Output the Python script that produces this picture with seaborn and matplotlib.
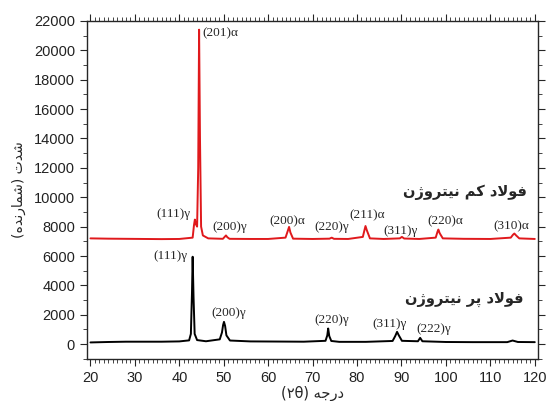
import pandas as pd
import seaborn as sns
import matplotlib.pyplot as plt
from matplotlib.ticker import MultipleLocator

##############################
# XRD pattern values (read) #
##############################

# low nitrogen steel (red, shifted up)
low_2theta = [20, 24, 28, 32, 36, 40, 43.0, 43.3, 43.5, 43.75, 44.0, 44.25, 44.45, 44.65, 44.9,
              45.3, 46.5, 49.8, 50.2, 50.5, 50.8, 51.3, 56, 60, 63.9, 64.4, 64.7, 65.0, 65.6,
              70, 73.8, 74.3, 74.8, 78, 81.3, 81.7, 81.9, 82.2, 82.9, 86, 89.6, 90.1, 90.6,
              94, 97.7, 98.1, 98.3, 98.6, 99.3, 104, 110, 114.6, 115.1, 115.4, 115.8, 116.5, 120]
low_counts = [7200, 7180, 7170, 7160, 7150, 7160, 7250, 8100, 8480, 8150, 8000, 12000, 21400, 14000, 8000,
              7400, 7200, 7170, 7300, 7400, 7280, 7170, 7160, 7160, 7250, 7700, 7980, 7600, 7180,
              7160, 7180, 7250, 7170, 7160, 7300, 7800, 8040, 7750, 7200, 7160, 7200, 7300, 7190,
              7160, 7250, 7650, 7800, 7550, 7200, 7170, 7160, 7250, 7450, 7530, 7400, 7200, 7160]

# high nitrogen steel (black)
high_2theta = [20, 24, 28, 32, 36, 40, 42.2, 42.6, 42.85, 43.0, 43.2, 43.45, 44.0, 46, 49.1, 49.6,
               49.85, 50.05, 50.3, 50.6, 51.4, 56, 62, 68, 72.9, 73.3, 73.5, 73.75, 74.2, 76,
               82, 88.0, 88.6, 89.0, 89.4, 90.1, 93.7, 94.2, 94.7, 100, 106, 113.8, 115, 116.2, 120]
high_counts = [120, 150, 170, 170, 170, 190, 260, 700, 3500, 5950, 3200, 700, 280, 200, 330, 800,
               1300, 1520, 1250, 600, 250, 190, 180, 170, 230, 600, 1070, 550, 220, 160,
               160, 220, 560, 840, 600, 230, 200, 430, 200, 150, 140, 140, 250, 150, 140]

# peak labels: (text, 2theta, counts)
low_labels = [('(111)γ', 38.7, 8840), ('(201)α', 48.6, 21150), ('(200)γ', 51.3, 7940),
              ('(200)α', 64.4, 8380), ('(220)γ', 74.4, 7980), ('(211)α', 82.2, 8770),
              ('(311)γ', 89.7, 7730), ('(220)α', 99.8, 8380), ('(310)α', 114.8, 8040)]
high_labels = [('(111)γ', 38.0, 5980), ('(200)γ', 51.0, 2130), ('(220)γ', 74.3, 1680),
               ('(311)γ', 87.3, 1360), ('(222)γ', 97.2, 1000)]

# Persian texts written in presentation forms (visual order) so they join without a shaper
low_name = '\uFEE5\uFB8A\uFEED\uFEAE\uFE98\uFBFF\uFEE7 \uFEE2\uFB90 \uFEA9\uFEFB\uFEEE\uFED3'
high_name = '\uFEE5\uFB8A\uFEED\uFEAE\uFE98\uFBFF\uFEE7 \uFEAE\uFB58 \uFEA9\uFEFB\uFEEE\uFED3'
y_title = '(\uFEE9\uFEAA\uFEE7\uFEAD\uFE8E\uFEE4\uFEB7) \uFE95\uFEAA\uFEB7'
x_title = '(\u06F2\u03B8) \uFEEA\uFE9F\uFEAD\uFEA9'

###########
# Plotting #
###########

sns.set_style('ticks')
plt.rcParams['font.family'] = ['Liberation Sans', 'DejaVu Sans']

low = pd.DataFrame({'2theta': low_2theta, 'counts': low_counts})
high = pd.DataFrame({'2theta': high_2theta, 'counts': high_counts})

fig, ax = plt.subplots(figsize=(5.5, 4.01), dpi=100)
sns.lineplot(data=low, x='2theta', y='counts', color='#e0191c', linewidth=1.4, ax=ax)
sns.lineplot(data=high, x='2theta', y='counts', color='black', linewidth=1.4, ax=ax)

serif = ['Liberation Serif', 'DejaVu Serif']
for txt, x, y in low_labels + high_labels:
    ax.text(x, y, txt, ha='center', va='center', fontsize=9.5, family=serif)
# (201)a sits to the right of its peak
ax.texts[1].set_x(45.2)
ax.texts[1].set_ha('left')

ax.text(118.3, 10360, low_name, ha='right', va='center', fontsize=10.5,
        fontweight='bold', family=['DejaVu Sans'])
ax.text(117.4, 3040, high_name, ha='right', va='center', fontsize=10.5,
        fontweight='bold', family=['DejaVu Sans'])

ax.set_xlim(19.2, 120.7)
ax.set_ylim(-1000, 22000)
ax.xaxis.set_major_locator(MultipleLocator(10))
ax.xaxis.set_minor_locator(MultipleLocator(1))
ax.yaxis.set_major_locator(MultipleLocator(2000))
ax.yaxis.set_minor_locator(MultipleLocator(1000))
ax.tick_params(which='both', top=True, right=True, direction='out', labelsize=10.5,
               labelcolor='#222222')
ax.tick_params(which='major', length=5)
ax.tick_params(which='minor', length=3)
for s in ax.spines.values():
    s.set_linewidth(1.0)

ax.set_xlabel(x_title, fontsize=10.5, family=['DejaVu Sans'], labelpad=1)
ax.set_ylabel(y_title, fontsize=10, family=['DejaVu Sans'], labelpad=6)

fig.subplots_adjust(left=0.158, right=0.978, top=0.948, bottom=0.105)
plt.savefig('out.png', dpi=100)
